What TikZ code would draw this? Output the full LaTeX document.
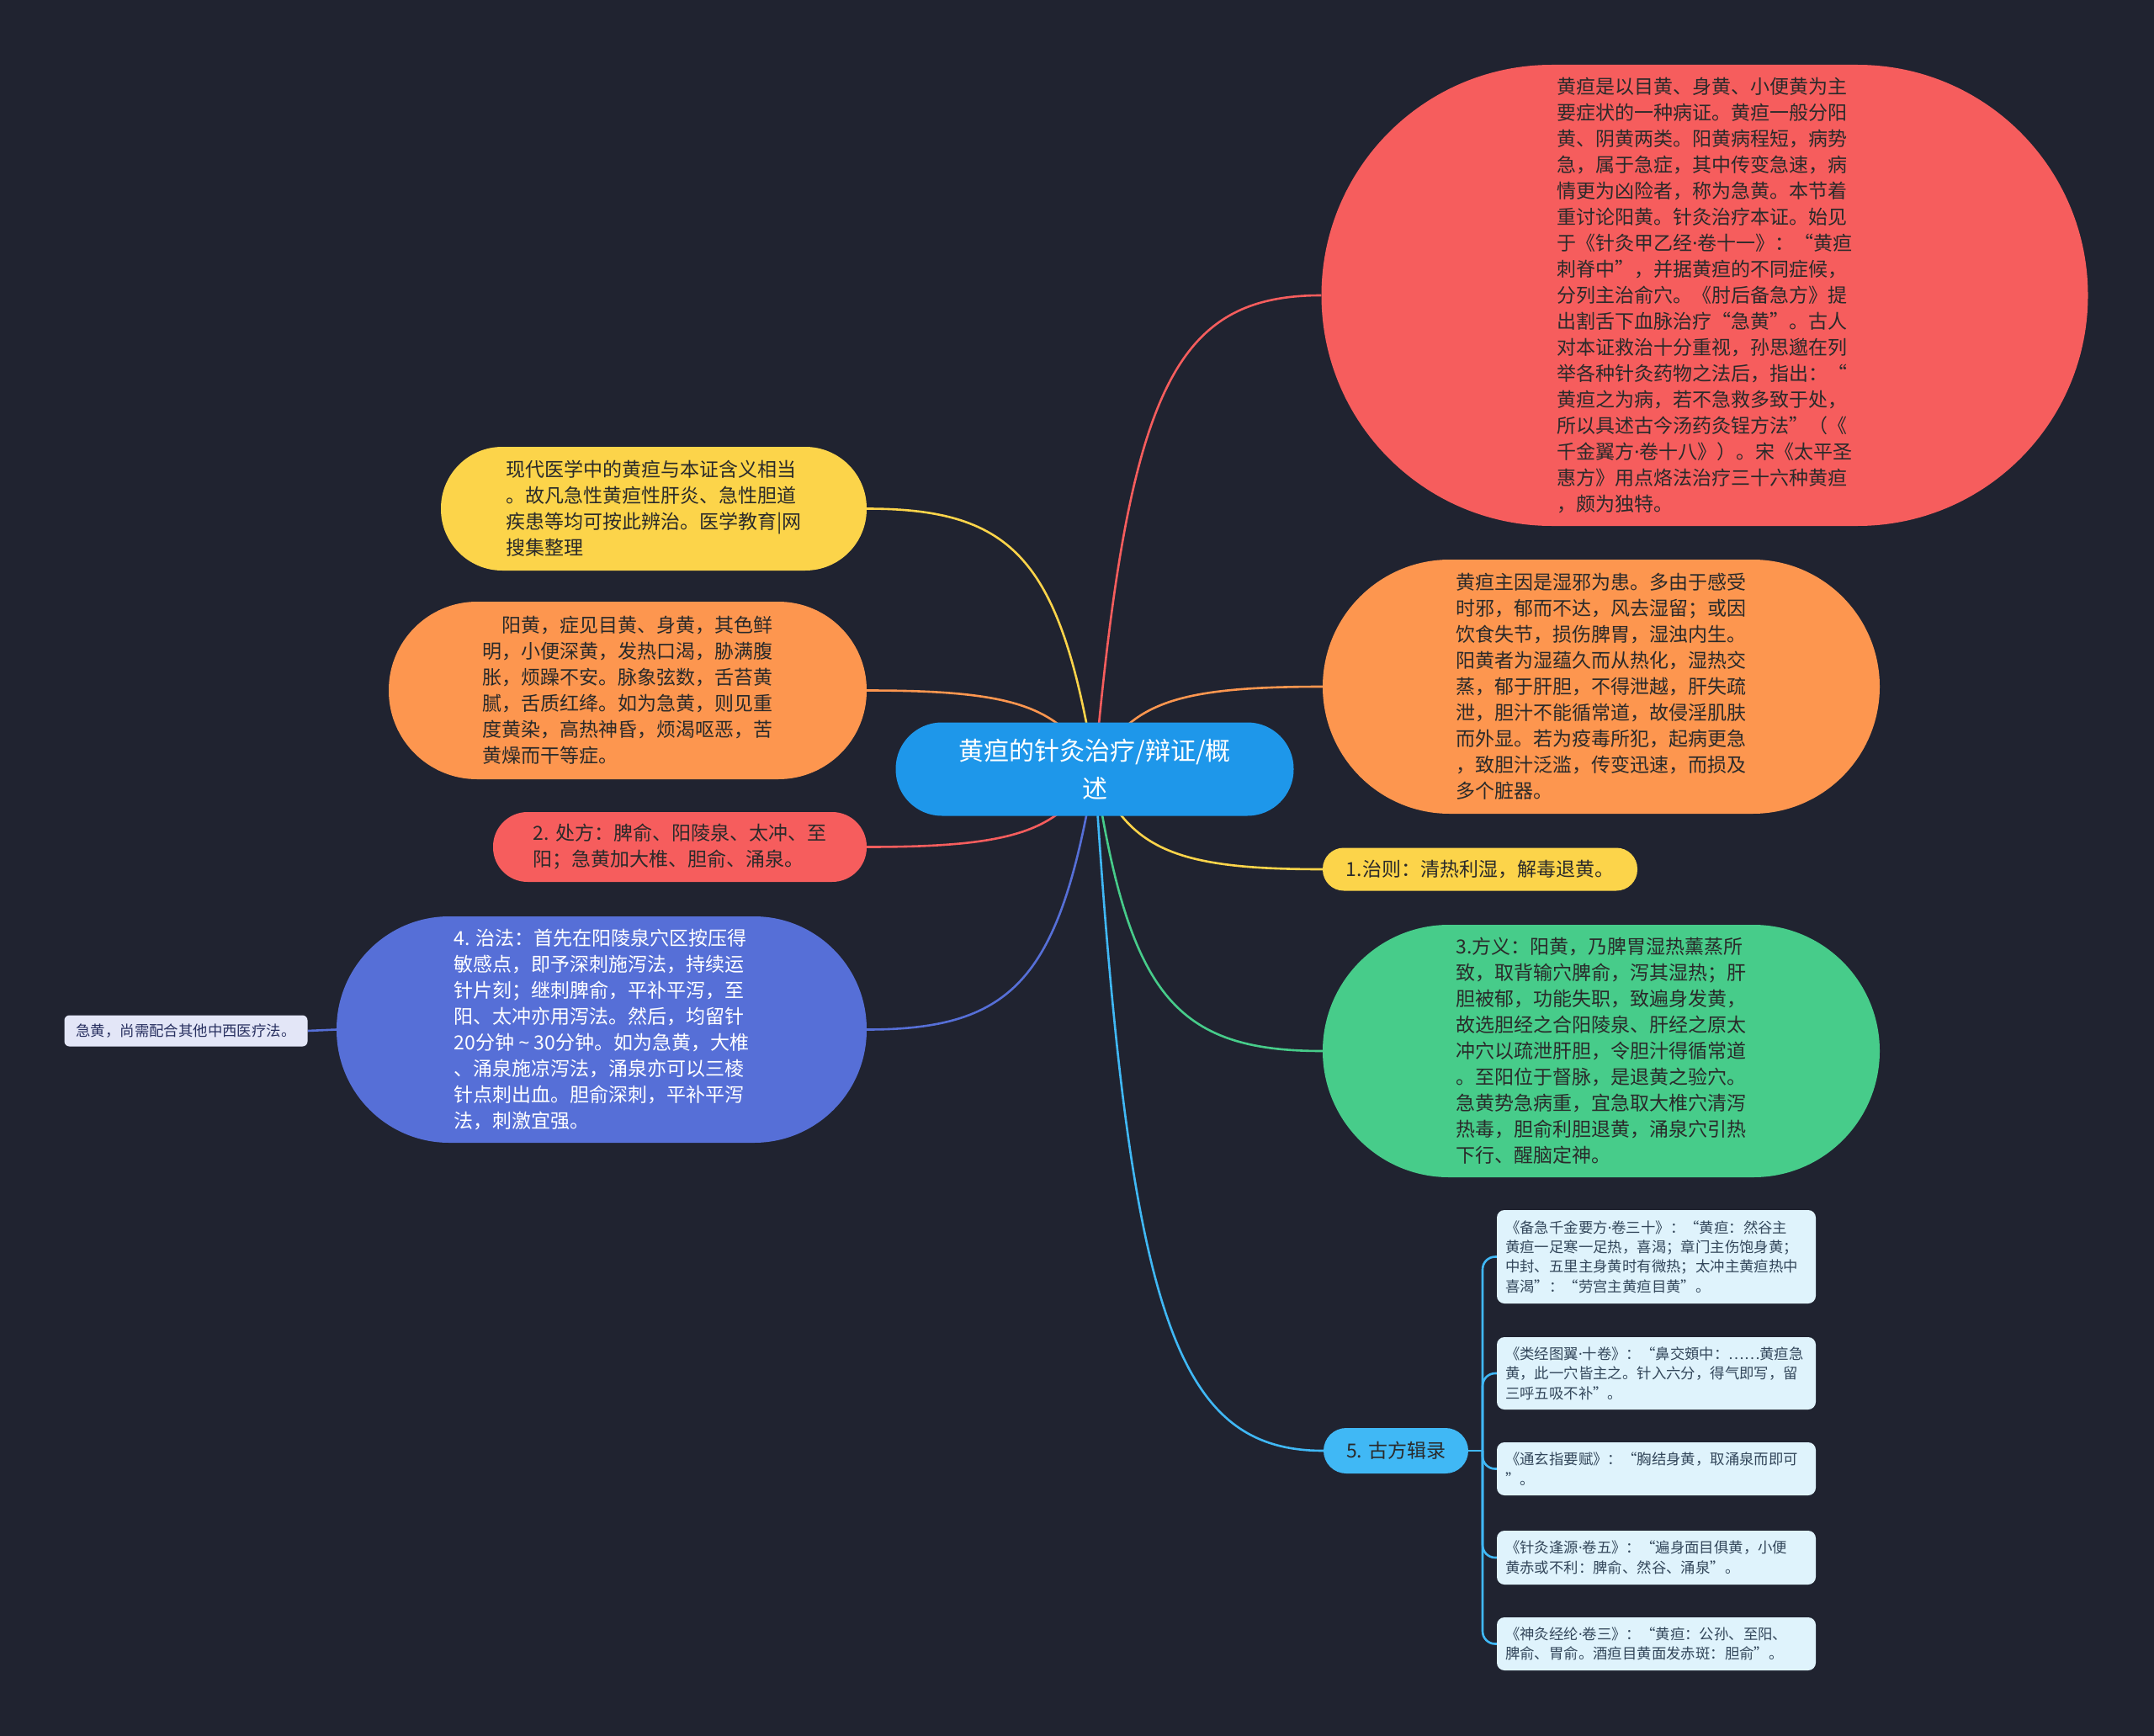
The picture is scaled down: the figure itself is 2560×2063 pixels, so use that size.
\documentclass[tikz,border=0pt]{standalone}
\usepackage{fontspec}
\setmainfont{Noto Sans CJK SC}
\newfontfamily\latinf{Noto Sans}
\newcommand{\mdot}{{\latinf ·}}
\usetikzlibrary{calc}
\pgfdeclarelayer{bg}
\pgfsetlayers{bg,main}
\definecolor{bgc}{HTML}{202330}
\definecolor{cRoot}{HTML}{1E97EA}
\definecolor{cRed}{HTML}{F65D5D}
\definecolor{cOrange}{HTML}{FD964F}
\definecolor{cYellow}{HTML}{FCD44A}
\definecolor{cGreen}{HTML}{47CC8A}
\definecolor{cBlue}{HTML}{566FD7}
\definecolor{cSky}{HTML}{40B8F5}
\definecolor{cSub}{HTML}{DFF3FC}
\definecolor{cLav}{HTML}{E3E6F7}
\definecolor{txtdark}{HTML}{2A2A2A}
\definecolor{txtsub}{HTML}{33475B}
\definecolor{txtlav}{HTML}{283060}
\tikzset{
  pill/.style={rectangle, inner sep=0pt, align=left, text=txtdark},
  bigtext/.style={font=\fontsize{23}{31}\selectfont},
  smalltext/.style={font=\fontsize{17.4}{23.4}\selectfont},
  subbox/.style={rectangle, inner sep=0pt, fill=cSub, rounded corners=9pt, text=txtsub,
     smalltext, minimum width=379pt, text width=359pt, align=left},
  conn/.style={line width=2.6pt},
}
\begin{document}
\begin{tikzpicture}[x=1pt,y=-1pt]
\useasboundingbox (0,0) rectangle (2560,2063);

% root
\node[pill, fill=cRoot, text=white, align=center, minimum width=473pt, minimum height=111pt,
  rounded corners=55pt, font=\fontsize{30}{45}\selectfont] (root) at (1301,914)
  {黄疸的针灸治疗/辩证/概\\述};

% right side
\node[pill, bigtext, fill=cRed, minimum width=911pt, minimum height=548pt, rounded corners=274pt]
  (R1) at (2026,351) {黄疸是以目黄、身黄、小便黄为主\\要症状的一种病证。黄疸一般分阳\\黄、阴黄两类。阳黄病程短，病势\\急，属于急症，其中传变急速，病\\情更为凶险者，称为急黄。本节着\\重讨论阳黄。针灸治疗本证。始见\\于《针灸甲乙经\mdot 卷十一》：“黄疸\\刺脊中”，并据黄疸的不同症候，\\分列主治俞穴。《肘后备急方》提\\出割舌下血脉治疗“急黄”。古人\\对本证救治十分重视，孙思邈在列\\举各种针灸药物之法后，指出：“\\黄疸之为病，若不急救多致于处，\\所以具述古今汤药灸锃方法”（《\\千金翼方\mdot 卷十八》）。宋《太平圣\\惠方》用点烙法治疗三十六种黄疸\\，颇为独特。};

\node[pill, bigtext, fill=cOrange, minimum width=662pt, minimum height=302pt, rounded corners=151pt]
  (O1) at (1903,816) {黄疸主因是湿邪为患。多由于感受\\时邪，郁而不达，风去湿留；或因\\饮食失节，损伤脾胃，湿浊内生。\\阳黄者为湿蕴久而从热化，湿热交\\蒸，郁于肝胆，不得泄越，肝失疏\\泄，胆汁不能循常道，故侵淫肌肤\\而外显。若为疫毒所犯，起病更急\\，致胆汁泛滥，传变迅速，而损及\\多个脏器。};

\node[pill, bigtext, fill=cYellow, minimum width=374pt, minimum height=51pt, rounded corners=25pt]
  (Y1) at (1759,1033) {1.治则：清热利湿，解毒退黄。};

\node[pill, bigtext, fill=cGreen, minimum width=662pt, minimum height=300pt, rounded corners=150pt]
  (G1) at (1903,1249) {3.方义：阳黄，乃脾胃湿热薰蒸所\\致，取背输穴脾俞，泻其湿热；肝\\胆被郁，功能失职，致遍身发黄，\\故选胆经之合阳陵泉、肝经之原太\\冲穴以疏泄肝胆，令胆汁得循常道\\。至阳位于督脉，是退黄之验穴。\\急黄势急病重，宜急取大椎穴清泻\\热毒，胆俞利胆退黄，涌泉穴引热\\下行、醒脑定神。};

\node[pill, bigtext, fill=cSky, minimum width=172pt, minimum height=54pt, rounded corners=27pt]
  (B5) at (1659,1724) {5. 古方辑录};

\node[subbox, minimum height=111pt] (s1) at (1968.5,1493.5)
  {《备急千金要方\mdot 卷三十》：“黄疸：然谷主\\黄疸一足寒一足热，喜渴；章门主伤饱身黄；\\中封、五里主身黄时有微热；太冲主黄疸热中\\喜渴”：“劳宫主黄疸目黄”。};
\node[subbox, minimum height=86pt] (s2) at (1968.5,1632)
  {《类经图翼\mdot 十卷》：“鼻交頞中：……黄疸急\\黄，此一穴皆主之。针入六分，得气即写，留\\三呼五吸不补”。};
\node[subbox, minimum height=63pt] (s3) at (1968.5,1745.5)
  {《通玄指要赋》：“胸结身黄，取涌泉而即可\\”。};
\node[subbox, minimum height=64pt] (s4) at (1968.5,1851)
  {《针灸逢源\mdot 卷五》：“遍身面目俱黄，小便\\黄赤或不利：脾俞、然谷、涌泉”。};
\node[subbox, minimum height=63pt] (s5) at (1968.5,1953.5)
  {《神灸经纶\mdot 卷三》：“黄疸：公孙、至阳、\\脾俞、胃俞。酒疸目黄面发赤斑：胆俞”。};

% left side
\node[pill, bigtext, fill=cYellow, minimum width=506pt, minimum height=147pt, rounded corners=73pt]
  (Y2) at (777,604.5) {现代医学中的黄疸与本证含义相当\\。故凡急性黄疸性肝炎、急性胆道\\疾患等均可按此辨治。医学教育|网\\搜集整理};

\node[pill, bigtext, fill=cOrange, minimum width=568pt, minimum height=211pt, rounded corners=105pt]
  (O2) at (746,820.5) {　阳黄，症见目黄、身黄，其色鲜\\明，小便深黄，发热口渴，胁满腹\\胀，烦躁不安。脉象弦数，舌苔黄\\腻，舌质红绛。如为急黄，则见重\\度黄染，高热神昏，烦渴呕恶，苦\\黄燥而干等症。};

\node[pill, bigtext, fill=cRed, minimum width=444pt, minimum height=83pt, rounded corners=41pt]
  (R2) at (808,1006.5) {2. 处方：脾俞、阳陵泉、太冲、至\\阳；急黄加大椎、胆俞、涌泉。};

\node[pill, bigtext, fill=cBlue, text=white, minimum width=630pt, minimum height=269pt, rounded corners=134pt]
  (Bl) at (715,1223.5) {4. 治法：首先在阳陵泉穴区按压得\\敏感点，即予深刺施泻法，持续运\\针片刻；继刺脾俞，平补平泻，至\\阳、太冲亦用泻法。然后，均留针\\20分钟 {\latinf\textasciitilde} 30分钟。如为急黄，大椎\\、涌泉施凉泻法，涌泉亦可以三棱\\针点刺出血。胆俞深刺，平补平泻\\法，刺激宜强。};

\node[rectangle, inner sep=0pt, fill=cLav, rounded corners=6pt, text=txtlav, smalltext,
  minimum width=289pt, minimum height=37pt] (S) at (221,1225) {急黄，尚需配合其他中西医疗法。};

\coordinate (trunk) at (1762,1724);

\begin{pgfonlayer}{bg}
\fill[bgc] (0,0) rectangle (2560,2063);
\foreach \tgt/\anc/\col in {R1/west/cRed, O1/west/cOrange, Y1/west/cYellow, G1/west/cGreen, B5/west/cSky,
   Y2/east/cYellow, O2/east/cOrange, R2/east/cRed, Bl/east/cBlue}{
  \draw[conn, draw=\col] let \p1=(root.center), \p2=(\tgt.\anc) in
    (\p1) .. controls ({\x1+0.15*(\x2-\x1)},{\y1+0.8*(\y2-\y1)}) and ({\x1+0.35*(\x2-\x1)},{\y2}) .. (\p2);
}
\draw[conn, draw=cSky] (B5.east) -- (trunk);
\foreach \b in {s1,s2,s3,s4,s5}{
  \draw[conn, draw=cSky, rounded corners=15pt] (trunk) |- (\b.west);
}
\draw[conn, draw=cBlue] (Bl.west) -- (S.east);
\end{pgfonlayer}
\end{tikzpicture}
\end{document}
